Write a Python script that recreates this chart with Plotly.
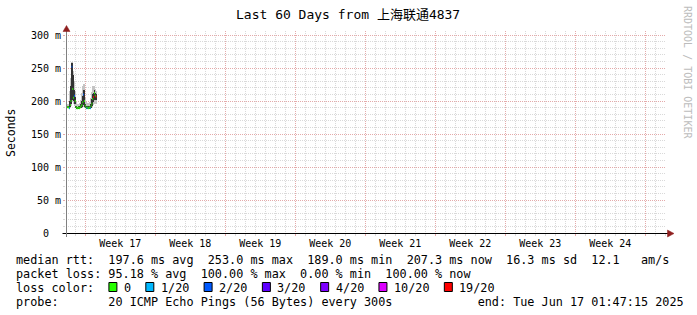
import plotly.graph_objects as go
import pandas as pd

# ---------------- data ----------------
TITLE = "Last 60 Days from 上海联通4837"
graph_start = "2025-04-18 01:47:15"
graph_end = "2025-06-17 01:47:15"
data_start = "2025-04-18 02:00:00"
step = "2h"

median_ms = [190, 190, 191, 190, 189, 194, 200, 252, 218, 205, 208, 200, 191, 189, 189, 190, 189, 190, 192,
             194, 198, 210, 200, 193, 190, 189, 190, 189, 190, 189, 192, 196, 203, 206, 212, 208, 207]
loss_pings = [0, 0, 0, 0, 1, 0, 0, 2, 0, 0, 2, 0, 0, 0, 0, 0, 0, 0, 0,
              0, 0, 2, 0, 0, 0, 1, 0, 0, 0, 1, 0, 0, 0, 19, 0, 0, 19]
smoke_min_ms = [189, 189, 189, 189, 188, 190, 193, 198, 200, 196, 197, 193, 189, 188, 188, 189, 188, 189, 189,
                190, 191, 194, 192, 190, 189, 188, 189, 188, 189, 188, 189, 191, 194, 196, 198, 196, 195]
smoke_max_ms = [194, 195, 196, 194, 195, 215, 235, 259, 245, 228, 230, 215, 198, 195, 194, 196, 195, 197, 202,
                212, 222, 226, 218, 205, 198, 196, 197, 196, 198, 199, 205, 214, 222, 223, 222, 218, 215]
core_lo_ms = [189.5, 189.5, 190, 189.5, 188.5, 191, 195, 202, 204, 200, 201, 195, 190, 188.5, 188.5, 189.5, 188.5,
              189.5, 190, 191.5, 194, 200, 195, 191, 189.5, 188.5, 189.5, 188.5, 189.5, 188.5, 190, 193, 198, 201,
              204, 202, 201]
core_hi_ms = [191, 191, 192, 191, 190, 200, 222, 258, 240, 212, 216, 206, 193, 190, 190, 191, 190, 191, 195,
              200, 207, 217, 207, 196, 191, 190, 191, 190, 191, 191, 196, 203, 210, 212, 216, 212, 210]

y_tickvals = [0, 50, 100, 150, 200, 250, 300]
y_ticktext = ["0\u00a0\u00a0", "50 m", "100 m", "150 m", "200 m", "250 m", "300 m"]

loss_labels = ["0", "1/20", "2/20", "3/20", "4/20", "10/20", "19/20"]
loss_thresholds = [0, 1, 2, 3, 4, 10, 19]
loss_colors = ["#26ff00", "#00b8ff", "#0059ff", "#5e00ff", "#7e00ff", "#dd00ff", "#ff0000"]

legend_lines = [
    "median rtt:  197.6 ms avg  253.0 ms max  189.0 ms min  207.3 ms now  16.3 ms sd  12.1   am/s",
    "packet loss: 95.18 % avg  100.00 % max  0.00 % min  100.00 % now",
    "loss color:",
    "probe:       20 ICMP Echo Pings (56 Bytes) every 300s            end: Tue Jun 17 01:47:15 2025",
]
credit = "RRDTOOL / TOBI OETIKER"
y_title = "Seconds"

# ---------------- layout constants ----------------
W, H = 697, 315
L, T, PW, PH = 66, 31, 600, 202
MONO = "DejaVu Sans Mono, Noto Sans CJK SC, monospace"
MAJOR = "#e4aaaa"
MINOR = "#d9d9d9"
ARROW = "#8f1f1f"


def px(xp):
    return (xp - L) / PW


def py(yp):
    return (T + PH - yp) / PH


times = pd.date_range(data_start, periods=len(median_ms), freq=step)
step_td = pd.Timedelta(step)
step_ms = step_td.total_seconds() * 1000

fig = go.Figure()

# smoke
fig.add_trace(go.Bar(x=times, base=smoke_min_ms,
                     y=[h - l for h, l in zip(smoke_max_ms, smoke_min_ms)],
                     width=step_ms, marker=dict(color="#c4c4c4", line=dict(width=0)),
                     hoverinfo="skip"))
fig.add_trace(go.Bar(x=times, base=core_lo_ms,
                     y=[h - l for h, l in zip(core_hi_ms, core_lo_ms)],
                     width=step_ms, marker=dict(color="#333333", line=dict(width=0)),
                     hoverinfo="skip"))


def level_of(n):
    k = 0
    for j, th in enumerate(loss_thresholds):
        if n >= th:
            k = j
    return k


levels = [level_of(n) for n in loss_pings]
for k, col in enumerate(loss_colors):
    xs, ys = [], []
    for t, v, lv in zip(times, median_ms, levels):
        if lv == k:
            xs += [t - step_td / 2, t + step_td / 2, None]
            ys += [v, v, None]
    if xs:
        fig.add_trace(go.Scatter(x=xs, y=ys, mode="lines", line=dict(color=col, width=2),
                                 hoverinfo="skip"))

# carrier trace so the week-label axis is drawn
fig.add_trace(go.Scatter(x=[graph_start, graph_end], y=[None, None], xaxis="x2", mode="lines",
                         hoverinfo="skip"))

annotations = []
annotations.append(dict(text=TITLE, x=px(348), y=py(15), xref="paper", yref="paper",
                        showarrow=False, font=dict(family=MONO, size=13, color="black"),
                        xanchor="center", yanchor="middle"))
annotations.append(dict(text=y_title, x=px(11), y=py(133), xref="paper", yref="paper",
                        showarrow=False, textangle=-90,
                        font=dict(family=MONO, size=11.5, color="black"),
                        xanchor="center", yanchor="middle"))
annotations.append(dict(text=credit, x=px(688), y=py(72), xref="paper", yref="paper",
                        showarrow=False, textangle=90,
                        font=dict(family=MONO, size=10, color="#bcbcbc"),
                        xanchor="center", yanchor="middle"))
line_y = [259, 273, 287, 301]
for txt, yy in zip(legend_lines, line_y):
    annotations.append(dict(text=txt.replace(" ", "\u00a0"), x=px(15.4), y=py(yy + 0.8),
                            xref="paper", yref="paper", showarrow=False, borderpad=0,
                            font=dict(family=MONO, size=11.8, color="black"),
                            xanchor="left", yanchor="middle"))

shapes = []
box_x = 108.9
for lab, col in zip(loss_labels, loss_colors):
    shapes.append(dict(type="rect", xref="paper", yref="paper",
                       x0=px(box_x), x1=px(box_x + 8), y0=py(291.5), y1=py(282.5),
                       fillcolor=col, line=dict(color="black", width=1)))
    annotations.append(dict(text=lab, x=px(box_x + 14.0), y=py(287.8), xref="paper", yref="paper",
                            showarrow=False, borderpad=0,
                            font=dict(family=MONO, size=11.8, color="black"),
                            xanchor="left", yanchor="middle"))
    box_x += 29.8 + 7.12 * len(lab)

shapes.append(dict(type="line", xref="paper", yref="paper", x0=px(62.5), x1=px(668), y0=py(233.5),
                   y1=py(233.5), line=dict(color="black", width=1)))
shapes.append(dict(type="line", xref="paper", yref="paper", x0=px(66.5), x1=px(66.5), y0=py(237),
                   y1=py(31), line=dict(color="#808080", width=1)))
shapes.append(dict(type="path", xref="paper", yref="paper",
                   path=f"M {px(63.0)} {py(31.5)} L {px(66.5)} {py(25.5)} L {px(70.0)} {py(31.5)} Z",
                   fillcolor=ARROW, line=dict(color=ARROW, width=0.5)))
shapes.append(dict(type="path", xref="paper", yref="paper",
                   path=f"M {px(667.5)} {py(230)} L {px(674)} {py(233.5)} L {px(667.5)} {py(237)} Z",
                   fillcolor=ARROW, line=dict(color=ARROW, width=0.5)))

week_ms = 7 * 86400000
fig.update_layout(
    width=W, height=H,
    margin=dict(l=L, r=W - L - PW, t=T, b=H - T - PH, pad=0),
    paper_bgcolor="white", plot_bgcolor="white",
    showlegend=False, barmode="overlay", bargap=0,
    annotations=annotations, shapes=shapes,
    xaxis=dict(type="date", range=[graph_start, graph_end], tick0="2025-04-20", dtick=week_ms,
               showticklabels=False, showgrid=True, gridcolor=MAJOR, griddash="1px,1px", gridwidth=1,
               ticks="outside", ticklen=2, tickcolor=MAJOR, zeroline=False, showline=False,
               minor=dict(tick0="2025-04-20", dtick=86400000, showgrid=True, gridcolor=MINOR,
                          griddash="1px,1px", ticks="outside", ticklen=2, tickcolor=MINOR)),
    xaxis2=dict(type="date", overlaying="x", anchor="y", side="bottom",
                range=[graph_start, graph_end], tick0="2025-04-23 12:00", dtick=week_ms,
                tickformat="Week %V", showgrid=False, ticks="", zeroline=False, showline=False,
                ticklabelstandoff=3,
                tickfont=dict(family=MONO, size=10, color="black")),
    yaxis=dict(range=[0, PH / 0.66], tickvals=y_tickvals, ticktext=y_ticktext,
               showgrid=True, gridcolor=MAJOR, griddash="1px,1px", zeroline=False, showline=False,
               ticks="outside", ticklen=2, tickcolor=MAJOR,
               tickfont=dict(family=MONO, size=10, color="black"),
               minor=dict(dtick=10, showgrid=True, gridcolor=MINOR, griddash="1px,1px",
                          ticks="outside", ticklen=2, tickcolor=MINOR)),
)

fig.write_html("out.html")
